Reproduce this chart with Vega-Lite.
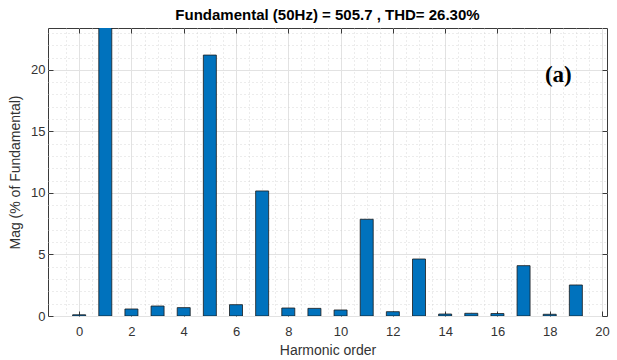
{
  "$schema": "https://vega.github.io/schema/vega-lite/v6.json",
  "width": 559,
  "height": 288,
  "autosize": {"type": "none"},
  "padding": {"left": 48, "top": 28, "right": 10, "bottom": 44},
  "background": "white",
  "title": {"text": "Fundamental (50Hz) = 505.7 , THD= 26.30%", "fontSize": 15, "font": "Liberation Sans", "fontWeight": "bold", "color": "#000000", "offset": 5, "anchor": "middle"},
  "config": {
    "view": {"stroke": "#3a3a3a", "strokeWidth": 1},
    "axis": {"labelFont": "Liberation Sans", "titleFont": "Liberation Sans", "labelColor": "#333333", "titleColor": "#333333", "labelFontSize": 13, "titleFontSize": 14, "titleFontWeight": "normal", "domain": false, "tickColor": "#3a3a3a"}
  },
  "data": {"values": [
    {"h": 0, "mag": 0.1}, {"h": 1, "mag": 100}, {"h": 2, "mag": 0.57}, {"h": 3, "mag": 0.81},
    {"h": 4, "mag": 0.68}, {"h": 5, "mag": 21.2}, {"h": 6, "mag": 0.92}, {"h": 7, "mag": 10.16},
    {"h": 8, "mag": 0.65}, {"h": 9, "mag": 0.62}, {"h": 10, "mag": 0.49}, {"h": 11, "mag": 7.86},
    {"h": 12, "mag": 0.35}, {"h": 13, "mag": 4.63}, {"h": 14, "mag": 0.16}, {"h": 15, "mag": 0.22},
    {"h": 16, "mag": 0.2}, {"h": 17, "mag": 4.09}, {"h": 18, "mag": 0.14}, {"h": 19, "mag": 2.52}
  ]},
  "layer": [
    {
      "mark": {"type": "point", "opacity": 0, "clip": true},
      "encoding": {
        "x": {"field": "h", "type": "quantitative", "scale": {"domain": [-1, 20], "nice": false, "zero": false},
              "axis": {"orient": "bottom", "values": [-0.5,0,0.5,1,1.5,2,2.5,3,3.5,4,4.5,5,5.5,6,6.5,7,7.5,8,8.5,9,9.5,10,10.5,11,11.5,12,12.5,13,13.5,14,14.5,15,15.5,16,16.5,17,17.5,18,18.5,19,19.5],
                       "labels": false, "ticks": false, "title": null, "grid": true, "gridColor": "#cfcfcf", "gridDash": [1, 3], "gridWidth": 0.8}},
        "y": {"field": "mag", "type": "quantitative", "scale": {"domain": [0, 23.4], "nice": false},
              "axis": {"orient": "left", "values": [1,2,3,4,5,6,7,8,9,10,11,12,13,14,15,16,17,18,19,20,21,22,23],
                       "labels": false, "ticks": false, "title": null, "grid": true, "gridColor": "#cfcfcf", "gridDash": [1, 3], "gridWidth": 0.8}}
      }
    },
    {
      "mark": {"type": "point", "opacity": 0, "clip": true},
      "encoding": {
        "x": {"field": "h", "type": "quantitative",
              "axis": {"orient": "top", "values": [0,2,4,6,8,10,12,14,16,18], "labels": false, "ticks": true, "tickSize": -5, "title": null, "grid": false}},
        "y": {"field": "mag", "type": "quantitative",
              "axis": {"orient": "right", "values": [0,5,10,15,20], "labels": false, "ticks": true, "tickSize": -5, "title": null, "grid": false}}
      }
    },
    {
      "mark": {"type": "bar", "size": 13, "color": "#0072BD", "stroke": "#1a1a1a", "strokeWidth": 0.8, "clip": true},
      "encoding": {
        "x": {"field": "h", "type": "quantitative",
              "axis": {"orient": "bottom", "values": [0,2,4,6,8,10,12,14,16,18,20], "title": "Harmonic order", "tickSize": -5, "labelPadding": 14, "titlePadding": 5, "grid": true, "gridColor": "#e2e2e2", "gridWidth": 1}},
        "y": {"field": "mag", "type": "quantitative",
              "axis": {"orient": "left", "values": [0,5,10,15,20], "title": "Mag (% of Fundamental)", "tickSize": -5, "labelPadding": 8, "titlePadding": 8, "grid": true, "gridColor": "#e2e2e2", "gridWidth": 1}}
      }
    },
    {
      "data": {"values": [{"label": "(a)", "h": 18.33, "mag": 19.6}]},
      "mark": {"type": "text", "font": "Liberation Serif", "fontWeight": "bold", "fontSize": 23, "color": "#000000", "align": "center", "baseline": "middle"},
      "encoding": {
        "x": {"field": "h", "type": "quantitative", "axis": null},
        "y": {"field": "mag", "type": "quantitative", "axis": null},
        "text": {"field": "label"}
      }
    }
  ],
  "resolve": {"axis": {"x": "independent", "y": "independent"}}
}
